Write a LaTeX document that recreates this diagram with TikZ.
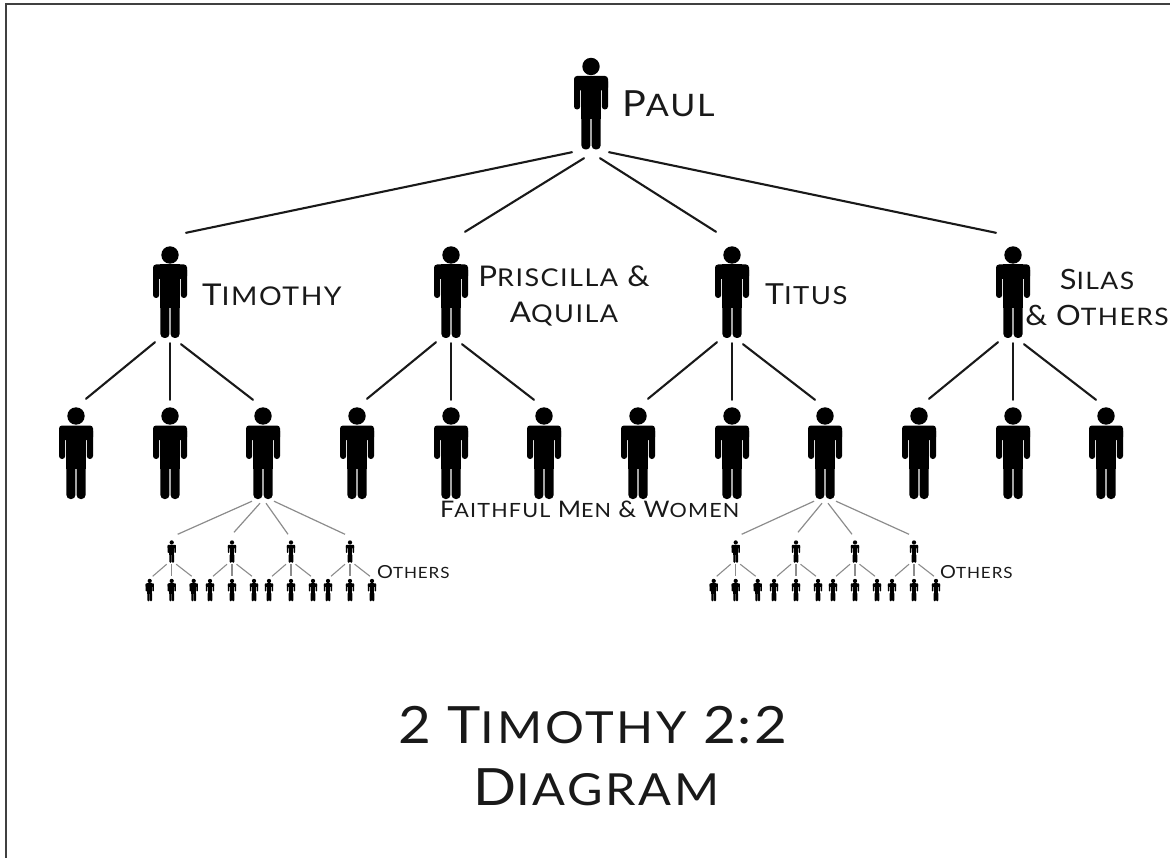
\documentclass[tikz,border=0pt]{standalone}
\usepackage{fontspec}
\setmainfont{Lato}[FakeStretch=1.1,LetterSpace=4]
\newfontfamily\lowfont{Lato}[FakeStretch=1.1,Scale=0.86,LetterSpace=6]
\usetikzlibrary{calc}
\newcommand{\capw}[2]{#1{\lowfont #2}}
\newcommand{\personfig}[1]{
    \begin{scope}[shift={(path picture bounding box.center)}, x=#1pt, y=-#1pt]
        \fill (0,-37) circle [radius=8.7pt*#1];
        \fill [rounded corners=3pt*#1] (-17,-27.5) rectangle (17,-13);
        \fill [rounded corners=3pt*#1] (-17,-25) rectangle (-10.8,6);
        \fill [rounded corners=3pt*#1] (17,-25) rectangle (10.8,6);
        \fill (-9.6,-27.5) rectangle (9.6,16);
        \fill [rounded corners=4pt*#1] (-9.6,10) rectangle (-0.6,46);
        \fill [rounded corners=4pt*#1] (9.6,10) rectangle (0.6,46);
    \end{scope}
}
\tikzset{
    person/.style={inner sep=0pt, minimum width=36*#1, minimum height=94*#1, path picture={\personfig{#1}}},
    link/.style={line width=2.1pt, line cap=round, black!90},
    thinlink/.style={line width=1.2pt, black!45},
    tinylink/.style={line width=1.1pt, black!45},
    label/.style={inner sep=0pt, anchor=base west, text=black!90},
}
\begin{document}
\begin{tikzpicture}[x=1pt, y=-1pt]
    \useasboundingbox (0,0) rectangle (1170,858);
    \draw [line width=2pt, black!75] (6,858) -- (6,4.5) -- (1170,4.5);

    % leaders
    \node [person=1] (paul) at (591,103.5) {};
    \foreach \x/\n in {170/timothy, 451/priscilla, 732/titus, 1013/silas}
        \node [person=1] (\n) at (\x,292) {};
    \foreach \x/\n in {76/f1, 170/f2, 263/f3, 357/f4, 451/f5, 544/f6, 638/f7, 732/f8, 825/f9, 919/f10, 1013/f11, 1106/f12}
        \node [person=1] (\n) at (\x,453) {};

    \draw [link] ($(paul.south)+(-19,1.5)$) -- ($(timothy.north)+(16,-12)$);
    \draw [link] ($(paul.south)+(-7,7.5)$) -- ($(priscilla.north)+(14,-13)$);
    \draw [link] ($(paul.south)+(9,7.5)$) -- ($(titus.north)+(-16,-13)$);
    \draw [link] ($(paul.south)+(18,1.5)$) -- ($(silas.north)+(-17,-12)$);

    \foreach \boss/\a/\b/\c in {timothy/f1/f2/f3, priscilla/f4/f5/f6, titus/f7/f8/f9, silas/f10/f11/f12} {
        \draw [link] ($(\boss.south)+(-15,3)$) -- ($(\a.north)+(10,-7)$);
        \draw [link] ($(\boss.south)+(0,4)$) -- ($(\b.north)+(0,-6)$);
        \draw [link] ($(\boss.south)+(11,5)$) -- ($(\c.north)+(-10,-6)$);
    }

    % the small groups
    \foreach \g/\dx/\boss in {a/0/f3, b/564/f9} {
        \foreach \m/\x/\sx/\sy/\ex/\ey in {1/171.7/-11/1/6/-5.5, 2/232/-3/3/2/-7.5, 3/291/3/3/-3/-5.5, 4/350/11/1/-5/-5.5} {
            \node [person=0.245] (\g\m) at (\x+\dx,551.5) {};
            \draw [thinlink] ($(\boss.south)+(\sx,\sy)$) -- ($(\g\m.north)+(\ex,\ey)$);
            \foreach \l/\off/\ux/\vx in {1/-22/-5/3, 2/0/0/0, 3/22/4.5/-2} {
                \node [person=0.245] (\g\m\l) at (\x+\dx+\off,590) {};
                \draw [tinylink] ($(\g\m.south)+(\ux,1)$) -- ($(\g\m\l.north)+(\vx,-2)$);
            }
        }
    }

    \node [label, font=\fontsize{36}{40}\selectfont] (paullabel) at (622,117) {\capw{P}{AUL}};
    \node [label, font=\fontsize{30}{36}\selectfont] (timothylabel) at (202,306) {\capw{T}{IMOTHY}};
    \node [label, font=\fontsize{29}{36}\selectfont] (tituslabel) at (765,305) {\capw{T}{ITUS}};
    \node [label, anchor=center, align=center, font=\fontsize{28.5}{36}\selectfont] (priscillalabel) at (564,296) {\capw{P}{RISCILLA} \&\\\capw{A}{QUILA}};
    \node [label, anchor=center, align=center, font=\fontsize{28}{36}\selectfont] (silaslabel) at (1097,297) {\capw{S}{ILAS}\\\& \capw{O}{THERS}};
    \node [label, font=\fontsize{22.8}{24}\selectfont] (faithful) at (440,517) {\capw{F}{AITHFUL} \capw{M}{EN} \& \capw{W}{OMEN}};
    \node [label, font=\fontsize{18}{20}\selectfont] (othersa) at (377,578) {\capw{O}{THERS}};
    \node [label, font=\fontsize{18}{20}\selectfont] (othersb) at (940,578) {\capw{O}{THERS}};
    \node [label, font=\fontsize{51.4}{60}\selectfont] (title) at (398,743) {2 \capw{T}{IMOTHY} 2:2};
    \node [label, font=\fontsize{51.4}{60}\selectfont] (subtitle) at (473,805) {\capw{D}{IAGRAM}};
\end{tikzpicture}
\end{document}
